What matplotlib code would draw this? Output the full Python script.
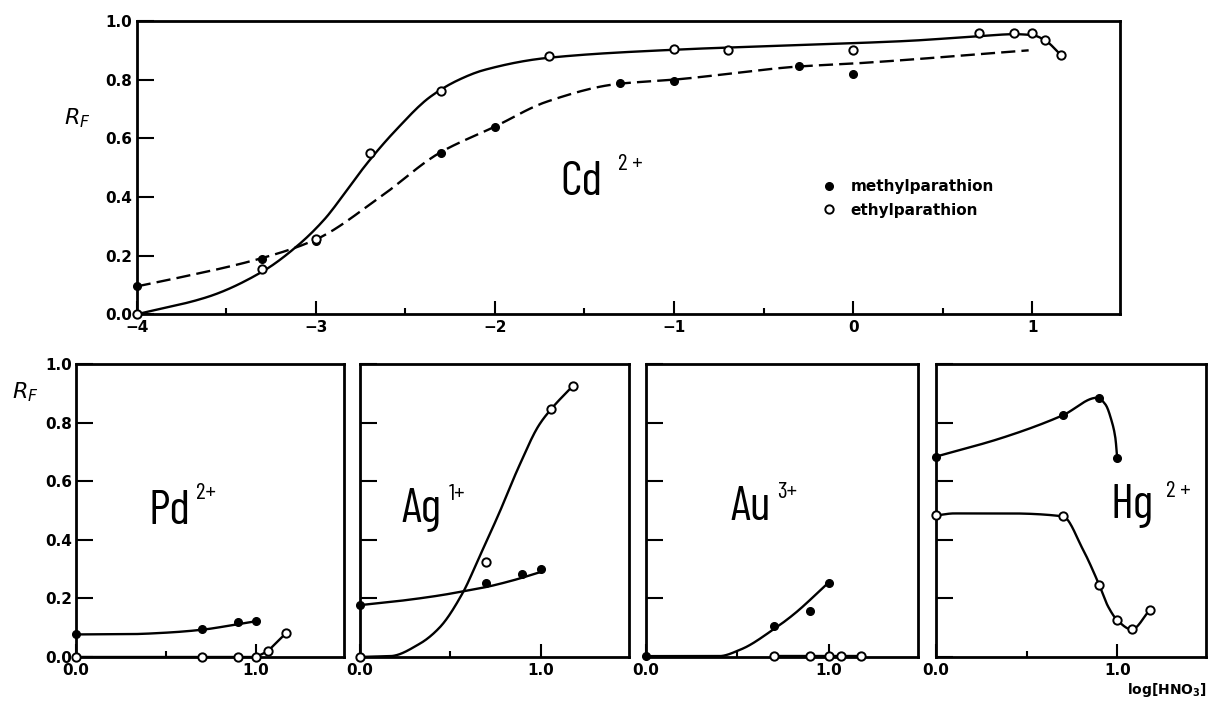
import numpy as np
import matplotlib
matplotlib.use('Agg')
import matplotlib.pyplot as plt
from matplotlib.lines import Line2D

W, H = 1213, 704

# ---- Cd2+ (top panel) ----
cd_methyl_x = [-4, -3.3, -3, -2.3, -2, -1.3, -1, -0.3, 0]
cd_methyl_y = [0.095, 0.19, 0.25, 0.55, 0.64, 0.788, 0.795, 0.845, 0.82]
cd_ethyl_x = [-4, -3.3, -3, -2.7, -2.3, -1.7, -1, -0.7, 0, 0.7, 0.9, 1.0, 1.07, 1.16]
cd_ethyl_y = [0.0, 0.153, 0.256, 0.551, 0.762, 0.881, 0.906, 0.901, 0.901, 0.958, 0.958, 0.958, 0.935, 0.884]
cd_methyl_curve_x = [-4, -3.81, -3.31, -3.0, -2.64, -2.31, -2.0, -1.71, -1.32, -1.0, -0.3, 0.0, 0.98]
cd_methyl_curve_y = [0.095, 0.119, 0.19, 0.255, 0.40, 0.55, 0.64, 0.725, 0.785, 0.80, 0.845, 0.855, 0.90]
cd_ethyl_curve_x = [-4, -3.6, -3.3, -3.1, -2.95, -2.83, -2.72, -2.55, -2.36, -2.2, -2.06, -1.71,
                    -1.0, -0.3, 0.3, 0.7, 0.9, 1.0, 1.07, 1.16]
cd_ethyl_curve_y = [0, 0.06, 0.145, 0.235, 0.325, 0.42, 0.51, 0.63, 0.742, 0.80, 0.833, 0.874,
                    0.902, 0.918, 0.932, 0.948, 0.955, 0.952, 0.935, 0.884]

# ---- Pd2+ ----
pd_methyl_x = [0, 0.7, 0.9, 1.0]
pd_methyl_y = [0.077, 0.094, 0.119, 0.122]
pd_methyl_curve_x = [0, 0.3, 0.5, 0.7, 0.9, 1.0]
pd_methyl_curve_y = [0.077, 0.078, 0.083, 0.093, 0.112, 0.122]
pd_ethyl_x = [0, 0.7, 0.9, 1.0, 1.065, 1.17]
pd_ethyl_y = [0.0, 0.0, 0.0, 0.0, 0.019, 0.083]

# ---- Ag1+ ----
ag_methyl_x = [0, 0.7, 0.9, 1.0]
ag_methyl_y = [0.177, 0.254, 0.282, 0.301]
ag_methyl_curve_x = [0, 0.2, 0.44, 0.57, 0.7, 0.85, 1.0]
ag_methyl_curve_y = [0.177, 0.19, 0.21, 0.224, 0.239, 0.262, 0.29]
ag_ethyl_x = [0, 0.7, 1.06, 1.18]
ag_ethyl_y = [0.0, 0.324, 0.847, 0.926]
ag_ethyl_curve_x = [0, 0.17, 0.33, 0.44, 0.57, 0.66, 0.77, 0.88, 0.99, 1.06, 1.18]
ag_ethyl_curve_y = [0, 0.003, 0.045, 0.10, 0.22, 0.34, 0.49, 0.65, 0.79, 0.847, 0.926]

# ---- Au3+ ----
au_methyl_x = [0, 0.7, 0.9, 1.0]
au_methyl_y = [0.005, 0.106, 0.158, 0.254]
au_methyl_curve_x = [0, 0.4, 0.52, 0.7, 0.81, 1.0]
au_methyl_curve_y = [0.003, 0.003, 0.026, 0.095, 0.146, 0.254]
au_ethyl_x = [0.7, 0.9, 1.0, 1.07, 1.18]
au_ethyl_y = [0.004, 0.004, 0.004, 0.004, 0.004]

# ---- Hg2+ ----
hg_methyl_x = [0, 0.7, 0.9, 1.0]
hg_methyl_y = [0.684, 0.825, 0.885, 0.678]
hg_methyl_curve_x = [0, 0.36, 0.7, 0.89, 0.935, 0.97, 0.99, 1.0]
hg_methyl_curve_y = [0.684, 0.747, 0.825, 0.885, 0.862, 0.804, 0.747, 0.678]
hg_ethyl_x = [0, 0.7, 0.9, 1.0, 1.08, 1.18]
hg_ethyl_y = [0.483, 0.48, 0.247, 0.126, 0.094, 0.161]
hg_ethyl_curve_x = [0, 0.1, 0.4, 0.7, 0.81, 0.9, 0.95, 1.0, 1.08, 1.18]
hg_ethyl_curve_y = [0.483, 0.49, 0.49, 0.48, 0.368, 0.247, 0.172, 0.126, 0.094, 0.161]


def pchip(x, y, n=300):
    # monotone cubic through the hand-read knots, just to draw a smooth stroke
    x = np.asarray(x, float)
    y = np.asarray(y, float)
    h = np.diff(x)
    d = np.diff(y) / h
    m = np.zeros_like(x)
    m[0], m[-1] = d[0], d[-1]
    for k in range(1, len(x) - 1):
        if d[k - 1] * d[k] > 0:
            w1 = 2 * h[k] + h[k - 1]
            w2 = h[k] + 2 * h[k - 1]
            m[k] = (w1 + w2) / (w1 / d[k - 1] + w2 / d[k])
    xs = np.linspace(x[0], x[-1], n)
    i = np.clip(np.searchsorted(x, xs) - 1, 0, len(x) - 2)
    t = (xs - x[i]) / h[i]
    h00 = 2 * t**3 - 3 * t**2 + 1
    h10 = t**3 - 2 * t**2 + t
    h01 = -2 * t**3 + 3 * t**2
    h11 = t**3 - t**2
    ys = h00 * y[i] + h10 * h[i] * m[i] + h01 * y[i + 1] + h11 * h[i] * m[i + 1]
    return xs, ys


def px(x, y):
    return x / W, 1 - y / H


def axes_rect(l, t, r, b):
    return [l / W, 1 - b / H, (r - l) / W, (b - t) / H]


LW = 1.7
filled = dict(ls='none', marker='o', ms=5.5, mfc='black', mec='black', zorder=5)
opened = dict(ls='none', marker='o', ms=6, mfc='white', mec='black', mew=1.4, zorder=6)
tick_font = dict(fontsize=11, fontweight='bold')
ion_family = ['Barlow Condensed', 'Roboto Condensed', 'Archivo Narrow', 'PT Sans Narrow', 'DejaVu Sans']


def ion_label(left, base, ion, charge, gap, sup_base):
    # element symbol, then its charge placed just after the symbol's right end
    t = fig.text(*px(left, base), ion, fontsize=35, family=ion_family,
                 fontweight='normal', va='baseline', ha='left')
    fig.canvas.draw()
    fig.add_artist(plt.Annotation(charge, xy=(1, 1 - sup_base / H),
                                  xycoords=(t, 'figure fraction'),
                                  xytext=(gap * 0.72, 0), textcoords='offset points',
                                  fontsize=17, family=ion_family, fontweight='normal',
                                  va='baseline', ha='left'))


def style(ax):
    for s in ax.spines.values():
        s.set_linewidth(2)
    ax.set_ylim(0, 1)
    ax.set_yticks([0, 0.2, 0.4, 0.6, 0.8, 1.0])
    ax.tick_params(axis='y', direction='in', length=12, width=1.5, pad=3)
    ax.tick_params(axis='x', which='major', direction='in', length=9.5, width=1.5, pad=4)
    ax.tick_params(axis='x', which='minor', direction='in', length=4.5, width=1.5)


fig = plt.figure(figsize=(W / 100, H / 100), dpi=100)

# top panel
ax = fig.add_axes(axes_rect(136.7, 21, 1120, 314.3))
style(ax)
ax.set_xlim(-4, 1.49)
ax.set_xticks([-4, -3, -2, -1, 0, 1])
ax.set_xticklabels(['\u22124', '\u22123', '\u22122', '\u22121', '0', '1'], **tick_font)
ax.set_xticks([-3.5, -2.5, -1.5, -0.5, 0.5], minor=True)
ax.set_yticklabels(['0.0', '0.2', '0.4', '0.6', '0.8', '1.0'], **tick_font)
cx, cy = pchip(cd_methyl_curve_x, cd_methyl_curve_y)
ax.plot(cx, cy, color='black', lw=LW, dashes=(6, 2.6))
cx, cy = pchip(cd_ethyl_curve_x, cd_ethyl_curve_y)
ax.plot(cx, cy, color='black', lw=LW)
ax.plot(cd_methyl_x, cd_methyl_y, clip_on=False, **filled)
ax.plot(cd_ethyl_x, cd_ethyl_y, clip_on=False, **opened)
handles = [Line2D([], [], **filled), Line2D([], [], **opened)]
ax.legend(handles, ['methylparathion', 'ethylparathion'], loc='upper left',
          bbox_to_anchor=(0.689, 0.487), frameon=False, handlelength=1.0,
          handletextpad=0.9, labelspacing=0.55, borderpad=0,
          prop=dict(size=11, weight='bold'))
ion_label(560, 195, 'Cd', '2 +', 16, 170)
fig.text(*px(77, 118), '$R_F$', fontsize=16, ha='center', va='center')

# bottom panels
panels = [
    ((76, 364, 344, 657), 'Pd', '2+', (148, 524), (6, 499),
     (pd_methyl_curve_x, pd_methyl_curve_y), None, (pd_ethyl_x, pd_ethyl_y),
     (pd_methyl_x, pd_methyl_y)),
    ((360, 364, 629, 657), 'Ag', '1+', (401, 522), (8, 500),
     (ag_methyl_curve_x, ag_methyl_curve_y), (ag_ethyl_curve_x, ag_ethyl_curve_y),
     (ag_ethyl_x, ag_ethyl_y), (ag_methyl_x, ag_methyl_y)),
    ((646, 364, 918, 657), 'Au', '3+', (730, 520), (7, 498),
     (au_methyl_curve_x, au_methyl_curve_y), None, (au_ethyl_x, au_ethyl_y),
     (au_methyl_x, au_methyl_y)),
    ((936, 364, 1206, 657), 'Hg', '2 +', (1110, 518), (13, 497),
     (hg_methyl_curve_x, hg_methyl_curve_y), (hg_ethyl_curve_x, hg_ethyl_curve_y),
     (hg_ethyl_x, hg_ethyl_y), (hg_methyl_x, hg_methyl_y)),
]

for i, (rect, ion, charge, ion_pos, sup, mcurve, ecurve, epts, mpts) in enumerate(panels):
    ax = fig.add_axes(axes_rect(*rect))
    style(ax)
    ax.set_xlim(0, 1.49)
    ax.set_xticks([0, 1])
    ax.set_xticklabels(['0.0', '1.0'], **tick_font)
    ax.set_xticks([0.5], minor=True)
    if i == 0:
        ax.set_yticklabels(['0.0', '0.2', '0.4', '0.6', '0.8', '1.0'], **tick_font)
    else:
        ax.tick_params(axis='y', labelleft=False)
    cx, cy = pchip(*mcurve)
    ax.plot(cx, cy, color='black', lw=LW, clip_on=False)
    if ecurve is not None:
        cx, cy = pchip(*ecurve)
        ax.plot(cx, cy, color='black', lw=LW, clip_on=False)
    else:
        ax.plot(*epts, color='black', lw=LW, clip_on=False)
    ax.plot(*epts, clip_on=False, **opened)
    ax.plot(*mpts, clip_on=False, **filled)
    ion_label(ion_pos[0], ion_pos[1], ion, charge, sup[0], sup[1])

fig.text(*px(25, 392), '$R_F$', fontsize=16, ha='center', va='center')
fig.text(*px(1167, 690), 'log[HNO$_\\mathbf{3}$]', fontsize=10, fontweight='bold',
         ha='center', va='center')

fig.savefig('out.png', dpi=100, facecolor='white')
